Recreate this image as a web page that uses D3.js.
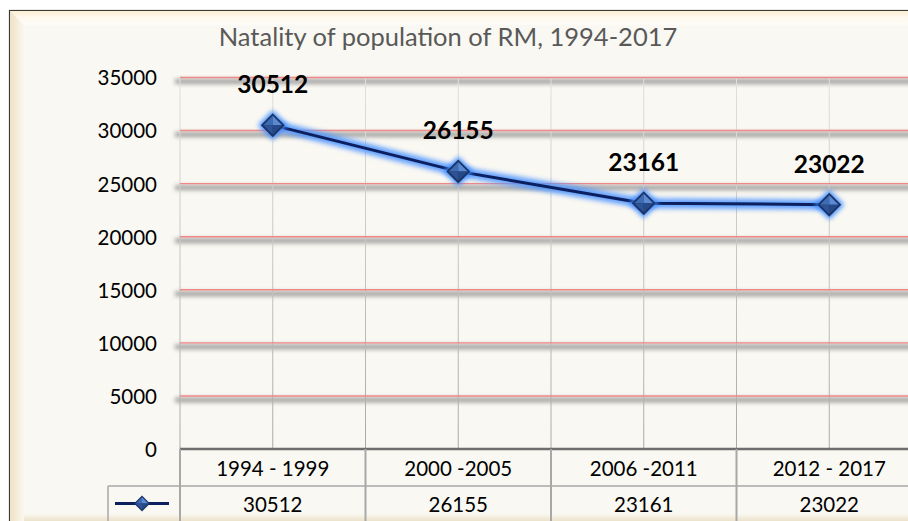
<!DOCTYPE html>
<html><head><meta charset="utf-8">
<script src="https://cdn.jsdelivr.net/npm/d3@7"></script>
<style>
html,body{margin:0;padding:0;background:#fff;}
svg{display:block;font-family:Lato, "Open Sans", sans-serif;}
</style></head>
<body>
<svg id="chart" width="908" height="521"></svg>
<script>
const title = "Natality of population of RM, 1994-2017";
const categories = ["1994 - 1999", "2000 -2005", "2006 -2011", "2012 - 2017"];
const births = [30512, 26155, 23161, 23022];
const yTicks = [0, 5000, 10000, 15000, 20000, 25000, 30000, 35000];

const svg = d3.select("#chart");
const defs = svg.append("defs");

const gTop = defs.append("linearGradient").attr("id","bevTop").attr("x1",0).attr("y1",0).attr("x2",0).attr("y2",1);
gTop.append("stop").attr("offset",0).attr("stop-color","#fbefd2");
gTop.append("stop").attr("offset",0.5).attr("stop-color","#fffaf0");
gTop.append("stop").attr("offset",1).attr("stop-color","#fdfbf6");
const gLeft = defs.append("linearGradient").attr("id","bevLeft").attr("x1",0).attr("y1",0).attr("x2",1).attr("y2",0);
gLeft.append("stop").attr("offset",0).attr("stop-color","#efe2c4");
gLeft.append("stop").attr("offset",1).attr("stop-color","#faf7ef");
const gBot = defs.append("linearGradient").attr("id","bevBot").attr("x1",0).attr("y1",0).attr("x2",0).attr("y2",1);
gBot.append("stop").attr("offset",0).attr("stop-color","#faf7f0");
gBot.append("stop").attr("offset",1).attr("stop-color","#ece2cb");

const blur = defs.append("filter").attr("id","shadowBlur").attr("x","-10%").attr("y","-200%").attr("width","120%").attr("height","500%");
blur.append("feGaussianBlur").attr("stdDeviation",2.2);
const glow = defs.append("filter").attr("id","glow").attr("x","-20%").attr("y","-50%").attr("width","140%").attr("height","200%");
glow.append("feGaussianBlur").attr("stdDeviation",2.8);

const vGrad = defs.append("linearGradient").attr("id","vgrid").attr("gradientUnits","userSpaceOnUse")
  .attr("x1",0).attr("y1",77).attr("x2",0).attr("y2",449);
vGrad.append("stop").attr("offset",0).attr("stop-color","#e2e0dc");
vGrad.append("stop").attr("offset",1).attr("stop-color","#a9a9a9");

// frame
svg.append("rect").attr("x",9.5).attr("y",10.5).attr("width",920).attr("height",520)
  .attr("fill","#faf8f2").attr("stroke","#3a3a3a").attr("stroke-width",1.2);
svg.append("rect").attr("x",10).attr("y",11).attr("width",910).attr("height",14).attr("fill","url(#bevTop)");
svg.append("path").attr("d","M10,11 L24,25 L24,521 L10,521 Z").attr("fill","url(#bevLeft)");
svg.append("rect").attr("x",24).attr("y",514).attr("width",900).attr("height",7).attr("fill","url(#bevBot)");

// scales
const x = d3.scaleBand().domain(categories).range([180, 922]).paddingInner(0).paddingOuter(0);
const y = d3.scaleLinear().domain([0, 35000]).range([449, 77.5]);
const cx = d => x(d) + x.bandwidth()/2;

// title
svg.append("text").attr("x",448).attr("y",46).attr("text-anchor","middle")
  .attr("fill","#595959").attr("font-size",25.5).text(title);

// horizontal gridlines with shadows
const gridG = svg.append("g");
yTicks.filter(t => t > 0).forEach(t => {
  gridG.append("rect").attr("x",175).attr("y",y(t)+1.5).attr("width",745).attr("height",5)
    .attr("fill","#8c8c8c").attr("opacity",0.8).attr("filter","url(#shadowBlur)");
});
const vlines = [];
categories.forEach(c => { vlines.push(x(c)); vlines.push(cx(c)); });
gridG.selectAll("line.v").data(vlines).join("line").attr("class","v")
  .attr("x1",d=>d).attr("x2",d=>d).attr("y1",y(35000)).attr("y2",y(0))
  .attr("stroke","url(#vgrid)").attr("stroke-width",1);
gridG.selectAll("line.h").data(yTicks.filter(t=>t>0)).join("line").attr("class","h")
  .attr("x1",180).attr("x2",908).attr("y1",d=>y(d)).attr("y2",d=>y(d))
  .attr("stroke","#f08888").attr("stroke-width",1.4);

// y axis labels
const yAxis = d3.axisLeft(y).tickValues(yTicks).tickSize(0).tickPadding(0).tickFormat(d3.format("d"));
const ya = svg.append("g").attr("transform","translate(157,0)").call(yAxis);
ya.select(".domain").remove();
ya.selectAll("text").attr("font-size",20.5).attr("fill","#000").attr("font-family","Lato, sans-serif").attr("dy","0.36em");

// line with glow
const pts = categories.map((c,i)=>[cx(c), y(births[i])]);
const lineGen = d3.line();
svg.append("path").attr("d",lineGen(pts)).attr("fill","none").attr("stroke","#4f95ff")
  .attr("stroke-width",10).attr("opacity",0.9).attr("filter","url(#glow)");
svg.append("path").attr("d",lineGen(pts)).attr("fill","none").attr("stroke","#0c1f5e").attr("stroke-width",3);

function diamond(g, px, py, r, withGlow){
  if(withGlow){
    g.append("path").attr("d",`M${px},${py-r-3}L${px+r+3},${py}L${px},${py+r+3}L${px-r-3},${py}Z`)
      .attr("fill","#3d8bff").attr("opacity",0.95).attr("filter","url(#glow)");
  }
  g.append("path").attr("d",`M${px},${py-r}L${px+r},${py}L${px},${py+r}L${px-r},${py}Z`).attr("fill","#1b3468");
  const i = r*0.78;
  g.append("path").attr("d",`M${px},${py-i}L${px},${py}L${px-i},${py}Z`).attr("fill","#3e6cb3");
  g.append("path").attr("d",`M${px},${py-i}L${px+i},${py}L${px},${py}Z`).attr("fill","#5b8ad2");
  g.append("path").attr("d",`M${px-i},${py}L${px},${py}L${px},${py+i}Z`).attr("fill","#2d5396");
  g.append("path").attr("d",`M${px},${py}L${px+i},${py}L${px},${py+i}Z`).attr("fill","#264a88");
}
const mk = svg.append("g");
pts.forEach(p => diamond(mk, p[0], p[1], 12, true));

// data labels
svg.append("g").selectAll("text").data(births).join("text")
  .attr("x",(d,i)=>cx(categories[i])).attr("y",d=>y(d)-32)
  .attr("text-anchor","middle").attr("font-weight","bold").attr("font-size",24.5)
  .attr("fill","#000").text(d=>d);

// data table
const tb = svg.append("g");
const rowTop = 449, rowMid = 486, rowBot = 521;
tb.append("line").attr("x1",180).attr("x2",908).attr("y1",rowTop).attr("y2",rowTop).attr("stroke","#6e6e6e").attr("stroke-width",2.5);
tb.append("line").attr("x1",108).attr("x2",908).attr("y1",rowMid).attr("y2",rowMid).attr("stroke","#a8a8a8").attr("stroke-width",1.5);
categories.forEach(c => {
  tb.append("line").attr("x1",x(c)).attr("x2",x(c)).attr("y1",rowTop).attr("y2",rowBot).attr("stroke","#a8a8a8").attr("stroke-width",2);
});
tb.append("line").attr("x1",108).attr("x2",108).attr("y1",rowMid).attr("y2",rowBot).attr("stroke","#a8a8a8").attr("stroke-width",1.5);
tb.selectAll("text.cat").data(categories).join("text").attr("class","cat")
  .attr("x",d=>cx(d)).attr("y",(rowTop+rowMid)/2+1).attr("dy","0.36em").attr("text-anchor","middle")
  .attr("font-size",20.5).attr("fill","#000").text(d=>d);
tb.selectAll("text.val").data(births).join("text").attr("class","val")
  .attr("x",(d,i)=>cx(categories[i])).attr("y",(rowMid+rowBot)/2+1).attr("dy","0.36em").attr("text-anchor","middle")
  .attr("font-size",20.5).attr("fill","#000").text(d=>d);
// legend key
tb.append("line").attr("x1",115).attr("x2",169).attr("y1",503.5).attr("y2",503.5).attr("stroke","#0c1f5e").attr("stroke-width",3);
diamond(tb, 142, 503.5, 8, false);
</script>
</body></html>
